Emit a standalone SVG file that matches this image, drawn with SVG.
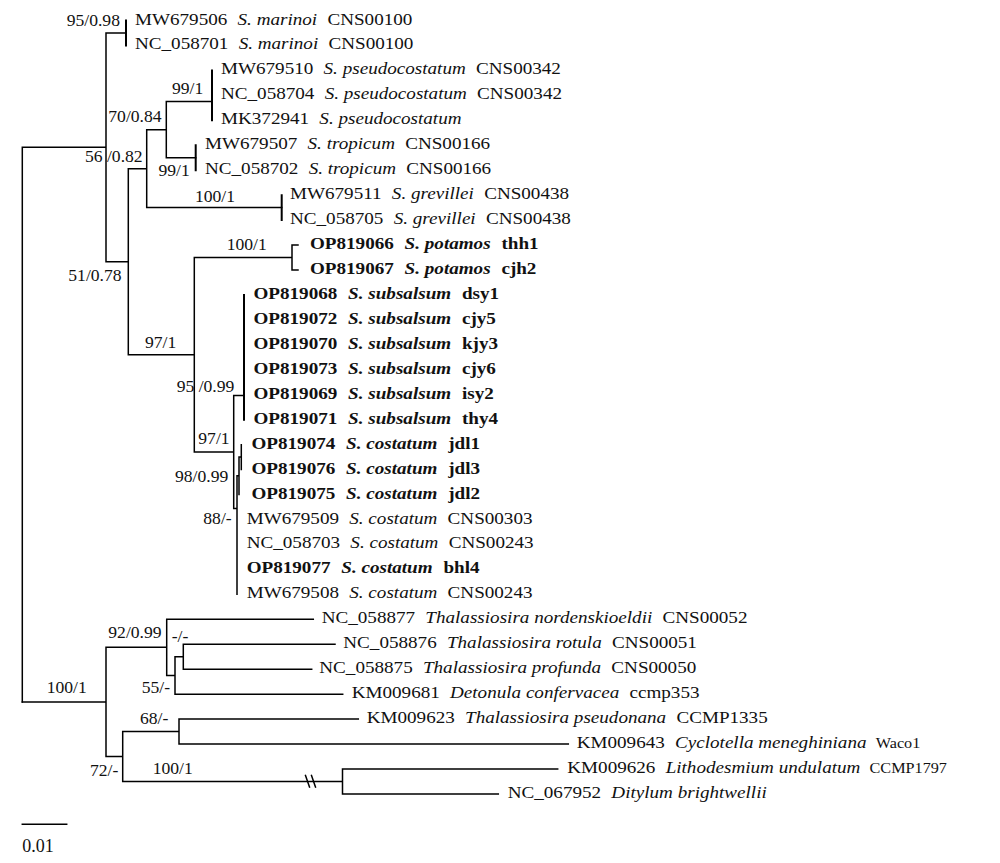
<svg xmlns="http://www.w3.org/2000/svg" width="1000" height="863" viewBox="0 0 1000 863">
<style>
.e{stroke:#000;stroke-width:1.5;fill:none;stroke-linecap:square}
.lv{stroke-width:2}
text{font-family:"Liberation Serif","Times New Roman",serif;fill:#111}
.t{font-size:17.7px}
.s{font-size:16px}
.b{font-weight:bold}
.i{font-style:italic}
.sm{font-size:15px}
</style>
<rect width="1000" height="863" fill="#fff"/>
<g id="connectors">
<path class="e" d="M22.3 147.35V701.95M22.3 147.35H106M106 33V261.7M106 33H126M106 261.7H128.3M128.3 168.65V354.8M128.3 168.65H146.7M146.7 129.7V207.6M146.7 129.7H166.3M166.3 101.6V157.7M166.3 101.6H212M166.3 157.7H195.7M146.7 207.6H281.7M128.3 354.8H194.3M194.3 257.5V452.1M194.3 257.5H292M298 245.05H292V270H298M194.3 452.1H233.7M233.7 395.53V508.6M233.7 395.53H244M233.7 508.6H237M237 475.8V594.35M237 475.8H239M239 457.1V494.55M239 457.1H241.3M241.3 444.65V469.6"/>
<path class="e lv" d="M126 20.5V45.45M212 70.4V120.3M195.7 145.25V170.2M281.7 195.15V220.1M244 294.95V419.7"/>
<path class="e" d="M22.3 701.95H106M106 647.35V756.55M106 647.35H166.7M166.7 619.3V675.4M166.7 619.3H313.3M166.7 675.4H175M175 656.7V694.15M175 656.7H183.3M183.3 644.25V669.2M183.3 644.25H335M183.3 669.2H311.7M175 694.15H342.7M106 756.55H122.7M122.7 731.6V781.5M122.7 731.6H179M179 719.1V744.05M179 719.1H358.3M179 744.05H568.3M122.7 781.5H342.5M342.5 769V793.95M342.5 769H557.7M342.5 793.95H498.3"/>
<path class="e" stroke-linecap="butt" d="M305.5 775.5L309.5 787M311.5 775.5L315.5 787"/>
</g>
<g id="support-values" class="s">
<text transform="translate(66.7 26) scale(1.1 1)">95/0.98</text>
<text transform="translate(172 94) scale(1.1 1)">99/1</text>
<text transform="translate(108.3 122) scale(1.1 1)">70/0.84</text>
<text transform="translate(85 162) scale(1.1 1)">56 /0.82</text>
<text transform="translate(158.5 176) scale(1.1 1)">99/1</text>
<text transform="translate(195 202) scale(1.1 1)">100/1</text>
<text transform="translate(226.7 249.5) scale(1.1 1)">100/1</text>
<text transform="translate(68.3 280.5) scale(1.1 1)">51/0.78</text>
<text transform="translate(145 348) scale(1.1 1)">97/1</text>
<text transform="translate(176.7 392) scale(1.1 1)">95 /0.99</text>
<text transform="translate(198.3 443.7) scale(1.1 1)">97/1</text>
<text transform="translate(175 482) scale(1.1 1)">98/0.99</text>
<text transform="translate(203.3 523.7) scale(1.1 1)">88/-</text>
<text transform="translate(108.3 638) scale(1.1 1)">92/0.99</text>
<text transform="translate(171.7 642) scale(1.1 1)">-/-</text>
<text transform="translate(46.7 693) scale(1.1 1)">100/1</text>
<text transform="translate(141.7 693) scale(1.1 1)">55/-</text>
<text transform="translate(140 723.7) scale(1.1 1)">68/-</text>
<text transform="translate(90 776.4) scale(1.1 1)">72/-</text>
<text transform="translate(152.7 774.4) scale(1.1 1)">100/1</text>
</g>
<g id="scale-bar">
<path class="e" stroke-linecap="butt" d="M22.3 824.3H66.7"/>
<text x="22.3" y="852" font-size="18">0.01</text>
</g>
<g id="n-MW679506"><text class="t" transform="translate(135 24.5) scale(1.08 1)"><tspan>MW679506</tspan><tspan dx="9.5" class="i">S. marinoi</tspan><tspan dx="9.5">CNS00100</tspan></text></g>
<g id="n-NC_058701"><text class="t" transform="translate(135 49.45) scale(1.08 1)"><tspan>NC_058701</tspan><tspan dx="9.5" class="i">S. marinoi</tspan><tspan dx="9.5">CNS00100</tspan></text></g>
<g id="n-MW679510"><text class="t" transform="translate(221 74.4) scale(1.08 1)"><tspan>MW679510</tspan><tspan dx="9.5" class="i">S. pseudocostatum</tspan><tspan dx="9.5">CNS00342</tspan></text></g>
<g id="n-NC_058704"><text class="t" transform="translate(221 99.35) scale(1.08 1)"><tspan>NC_058704</tspan><tspan dx="9.5" class="i">S. pseudocostatum</tspan><tspan dx="9.5">CNS00342</tspan></text></g>
<g id="n-MK372941"><text class="t" transform="translate(221 124.3) scale(1.08 1)"><tspan>MK372941</tspan><tspan dx="9.5" class="i">S. pseudocostatum</tspan></text></g>
<g id="n-MW679507"><text class="t" transform="translate(205 149.25) scale(1.08 1)"><tspan>MW679507</tspan><tspan dx="9.5" class="i">S. tropicum</tspan><tspan dx="9.5">CNS00166</tspan></text></g>
<g id="n-NC_058702"><text class="t" transform="translate(205 174.2) scale(1.08 1)"><tspan>NC_058702</tspan><tspan dx="9.5" class="i">S. tropicum</tspan><tspan dx="9.5">CNS00166</tspan></text></g>
<g id="n-MW679511"><text class="t" transform="translate(290 199.15) scale(1.08 1)"><tspan>MW679511</tspan><tspan dx="9.5" class="i">S. grevillei</tspan><tspan dx="9.5">CNS00438</tspan></text></g>
<g id="n-NC_058705"><text class="t" transform="translate(290 224.1) scale(1.08 1)"><tspan>NC_058705</tspan><tspan dx="9.5" class="i">S. grevillei</tspan><tspan dx="9.5">CNS00438</tspan></text></g>
<g id="n-OP819066"><text class="t b" transform="translate(310 249.05) scale(1.08 1)"><tspan>OP819066</tspan><tspan dx="10" class="i">S. potamos</tspan><tspan dx="10">thh1</tspan></text></g>
<g id="n-OP819067"><text class="t b" transform="translate(310 274) scale(1.08 1)"><tspan>OP819067</tspan><tspan dx="10" class="i">S. potamos</tspan><tspan dx="10">cjh2</tspan></text></g>
<g id="n-OP819068"><text class="t b" transform="translate(253.5 298.95) scale(1.08 1)"><tspan>OP819068</tspan><tspan dx="10" class="i">S. subsalsum</tspan><tspan dx="10">dsy1</tspan></text></g>
<g id="n-OP819072"><text class="t b" transform="translate(253.5 323.9) scale(1.08 1)"><tspan>OP819072</tspan><tspan dx="10" class="i">S. subsalsum</tspan><tspan dx="10">cjy5</tspan></text></g>
<g id="n-OP819070"><text class="t b" transform="translate(253.5 348.85) scale(1.08 1)"><tspan>OP819070</tspan><tspan dx="10" class="i">S. subsalsum</tspan><tspan dx="10">kjy3</tspan></text></g>
<g id="n-OP819073"><text class="t b" transform="translate(253.5 373.8) scale(1.08 1)"><tspan>OP819073</tspan><tspan dx="10" class="i">S. subsalsum</tspan><tspan dx="10">cjy6</tspan></text></g>
<g id="n-OP819069"><text class="t b" transform="translate(253.5 398.75) scale(1.08 1)"><tspan>OP819069</tspan><tspan dx="10" class="i">S. subsalsum</tspan><tspan dx="10">isy2</tspan></text></g>
<g id="n-OP819071"><text class="t b" transform="translate(253.5 423.7) scale(1.08 1)"><tspan>OP819071</tspan><tspan dx="10" class="i">S. subsalsum</tspan><tspan dx="10">thy4</tspan></text></g>
<g id="n-OP819074"><text class="t b" transform="translate(251.5 448.65) scale(1.08 1)"><tspan>OP819074</tspan><tspan dx="10" class="i">S. costatum</tspan><tspan dx="10">jdl1</tspan></text></g>
<g id="n-OP819076"><text class="t b" transform="translate(251.5 473.6) scale(1.08 1)"><tspan>OP819076</tspan><tspan dx="10" class="i">S. costatum</tspan><tspan dx="10">jdl3</tspan></text></g>
<g id="n-OP819075"><text class="t b" transform="translate(251.5 498.55) scale(1.08 1)"><tspan>OP819075</tspan><tspan dx="10" class="i">S. costatum</tspan><tspan dx="10">jdl2</tspan></text></g>
<g id="n-MW679509"><text class="t" transform="translate(246.7 523.5) scale(1.08 1)"><tspan>MW679509</tspan><tspan dx="9.5" class="i">S. costatum</tspan><tspan dx="9.5">CNS00303</tspan></text></g>
<g id="n-NC_058703"><text class="t" transform="translate(246.7 548.45) scale(1.08 1)"><tspan>NC_058703</tspan><tspan dx="9.5" class="i">S. costatum</tspan><tspan dx="9.5">CNS00243</tspan></text></g>
<g id="n-OP819077"><text class="t b" transform="translate(246.7 573.4) scale(1.08 1)"><tspan>OP819077</tspan><tspan dx="10" class="i">S. costatum</tspan><tspan dx="10">bhl4</tspan></text></g>
<g id="n-MW679508"><text class="t" transform="translate(246.7 598.35) scale(1.08 1)"><tspan>MW679508</tspan><tspan dx="9.5" class="i">S. costatum</tspan><tspan dx="9.5">CNS00243</tspan></text></g>
<g id="n-NC_058877"><text class="t" transform="translate(321.7 623.3) scale(1.08 1)"><tspan>NC_058877</tspan><tspan dx="9.5" class="i">Thalassiosira nordenskioeldii</tspan><tspan dx="9.5">CNS00052</tspan></text></g>
<g id="n-NC_058876"><text class="t" transform="translate(343.3 648.25) scale(1.08 1)"><tspan>NC_058876</tspan><tspan dx="9.5" class="i">Thalassiosira rotula</tspan><tspan dx="9.5">CNS00051</tspan></text></g>
<g id="n-NC_058875"><text class="t" transform="translate(319.3 673.2) scale(1.08 1)"><tspan>NC_058875</tspan><tspan dx="9.5" class="i">Thalassiosira profunda</tspan><tspan dx="9.5">CNS00050</tspan></text></g>
<g id="n-KM009681"><text class="t" transform="translate(351.7 698.15) scale(1.08 1)"><tspan>KM009681</tspan><tspan dx="9.5" class="i">Detonula confervacea</tspan><tspan dx="9.5">ccmp353</tspan></text></g>
<g id="n-KM009623"><text class="t" transform="translate(366.7 723.1) scale(1.08 1)"><tspan>KM009623</tspan><tspan dx="9.5" class="i">Thalassiosira pseudonana</tspan><tspan dx="9.5">CCMP1335</tspan></text></g>
<g id="n-KM009643"><text class="t" transform="translate(576.7 748.05) scale(1.08 1)"><tspan>KM009643</tspan><tspan dx="9.5" class="i">Cyclotella meneghiniana</tspan><tspan dx="8.5" class="sm">Waco1</tspan></text></g>
<g id="n-KM009626"><text class="t" transform="translate(567.3 773) scale(1.08 1)"><tspan>KM009626</tspan><tspan dx="9.5" class="i">Lithodesmium undulatum</tspan><tspan dx="8.5" class="sm">CCMP1797</tspan></text></g>
<g id="n-NC_067952"><text class="t" transform="translate(507.7 797.95) scale(1.08 1)"><tspan>NC_067952</tspan><tspan dx="9.5" class="i">Ditylum brightwellii</tspan></text></g>
</svg>
